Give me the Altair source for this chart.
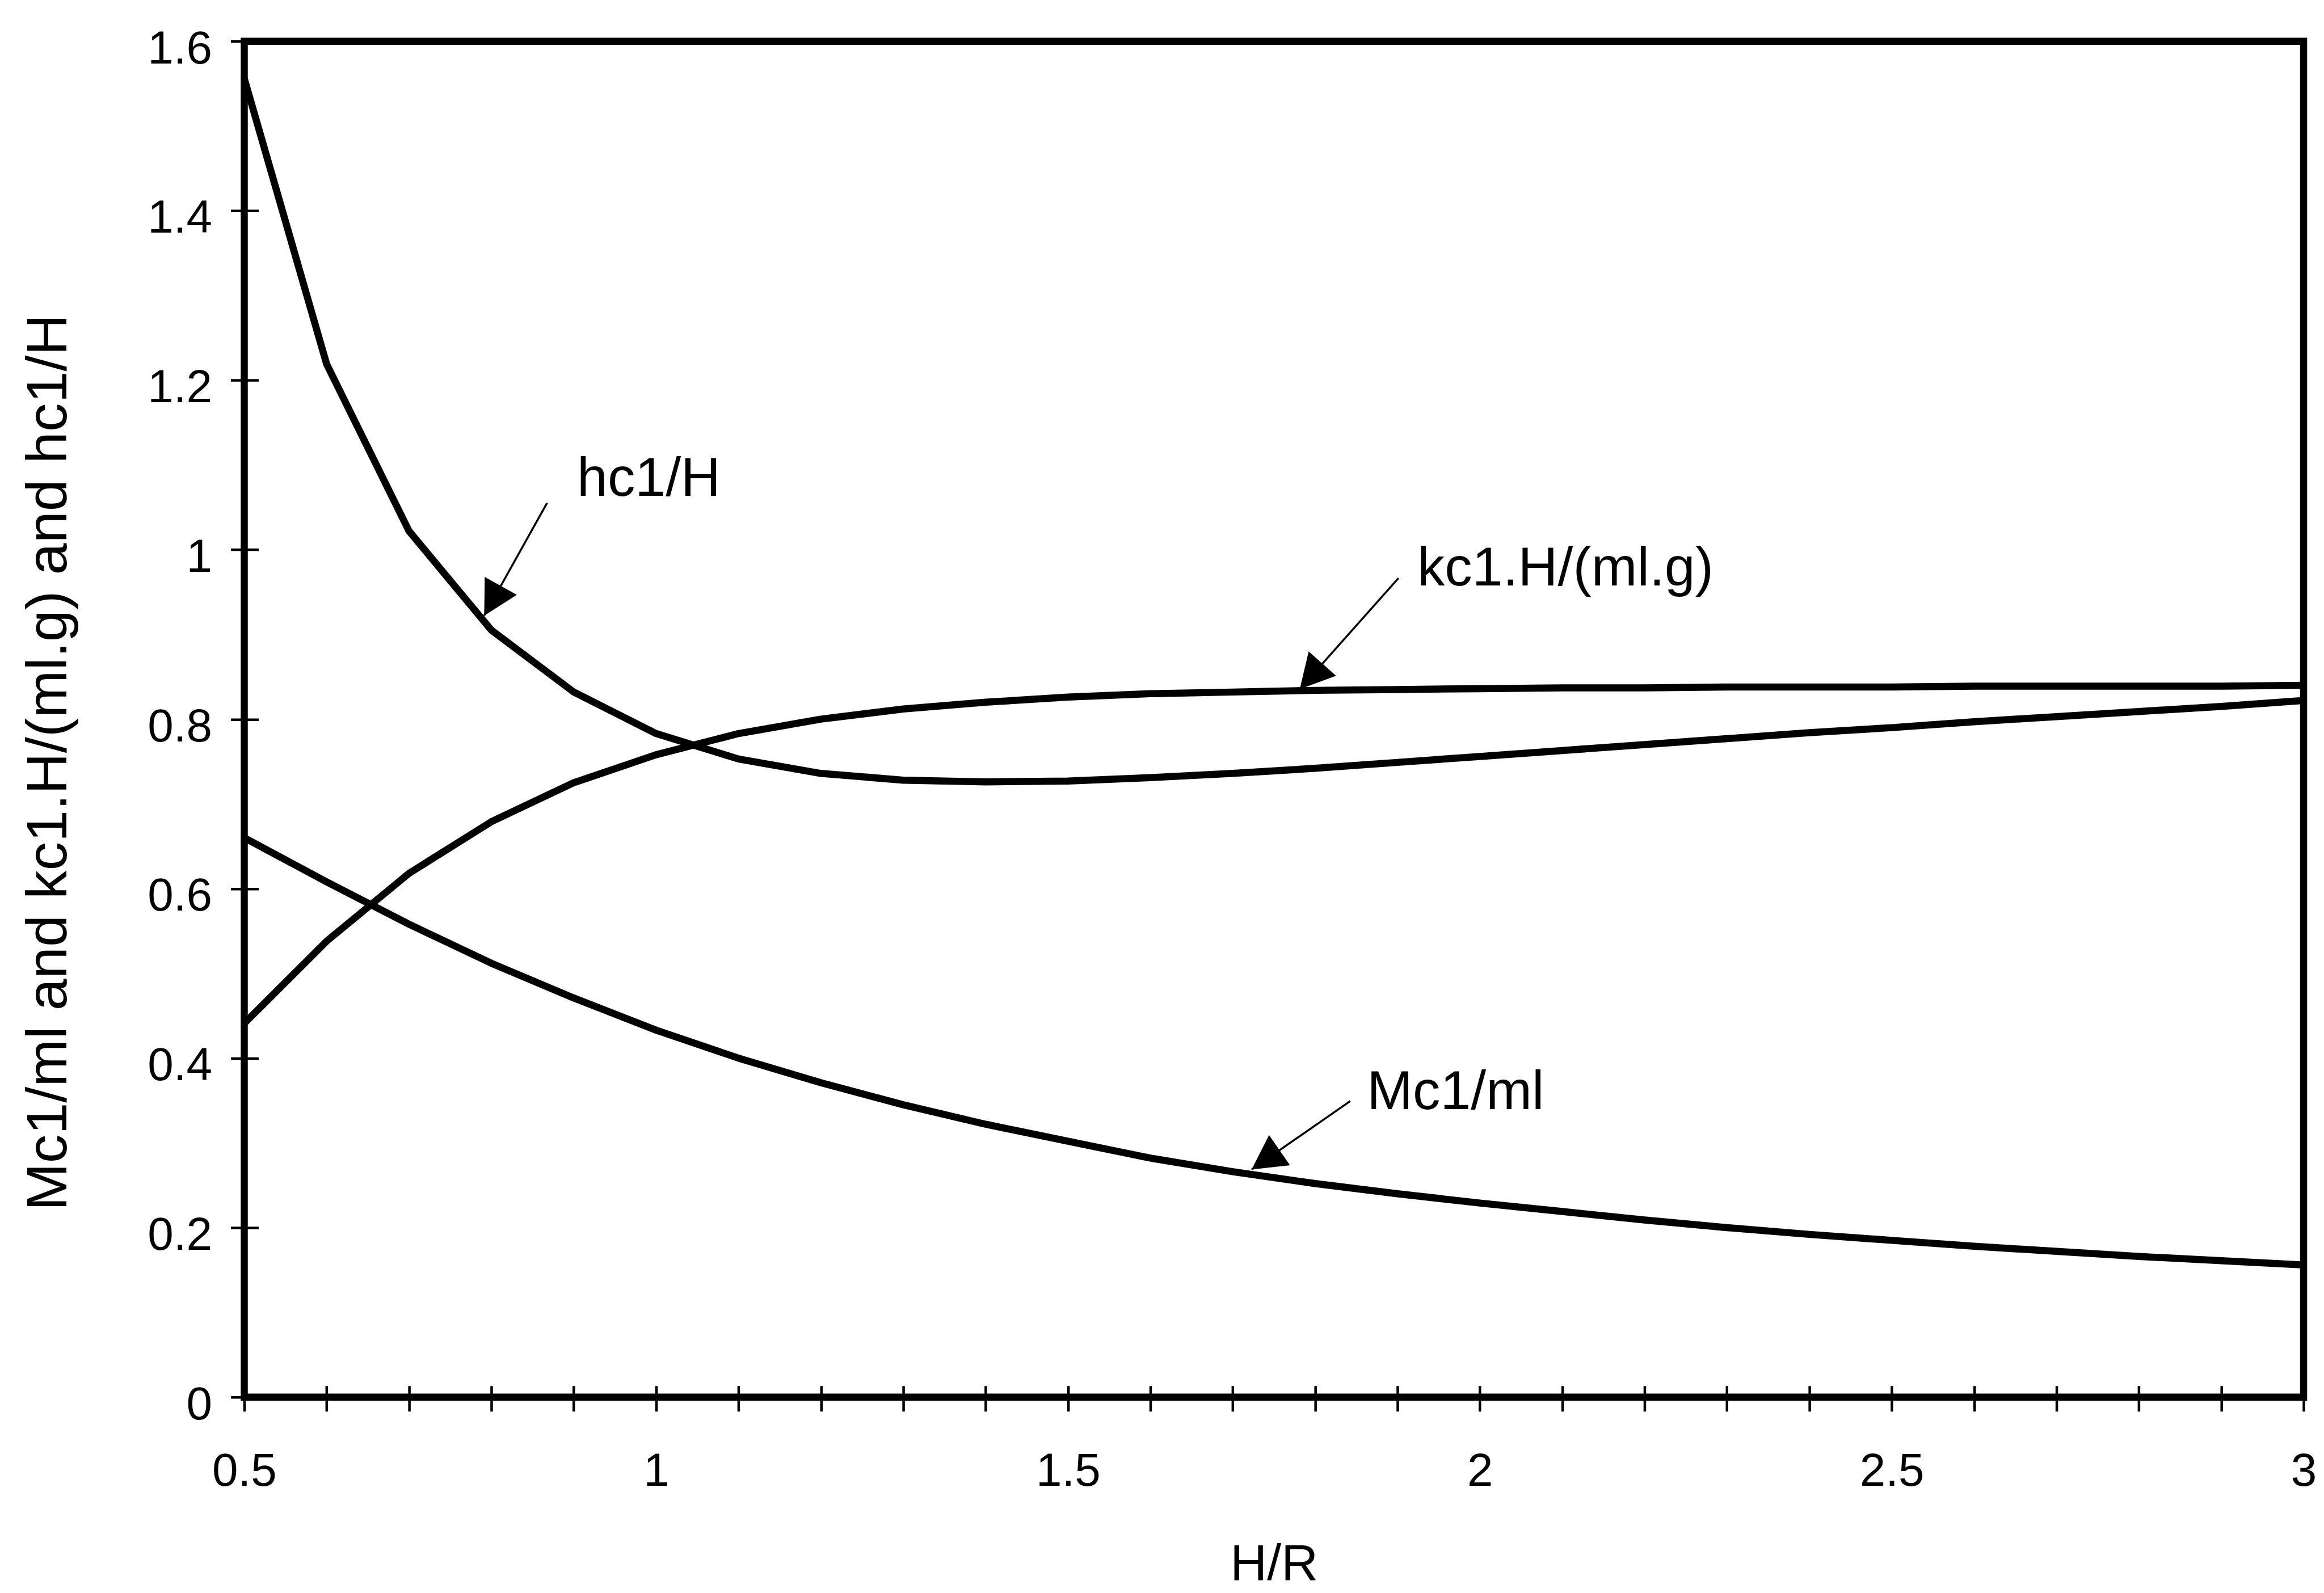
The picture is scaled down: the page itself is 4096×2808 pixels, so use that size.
import math
import altair as alt
import pandas as pd

# ---------------- data ----------------
H_R = [0.5, 0.6, 0.7, 0.8, 0.9, 1.0, 1.1, 1.2, 1.3, 1.4, 1.5, 1.6, 1.7,
       1.8, 1.9, 2.0, 2.1, 2.2, 2.3, 2.4, 2.5, 2.6, 2.7, 2.8, 2.9, 3.0]

HC1_H = [1.556, 1.219, 1.022, 0.905, 0.832, 0.783, 0.753, 0.736, 0.728,
         0.726, 0.727, 0.731, 0.736, 0.742, 0.749, 0.756, 0.763, 0.770,
         0.777, 0.784, 0.790, 0.797, 0.803, 0.809, 0.815, 0.822]

KC1_H_MLG = [0.441, 0.538, 0.618, 0.679, 0.725, 0.758, 0.783, 0.800, 0.812,
             0.820, 0.826, 0.830, 0.832, 0.834, 0.835, 0.836, 0.837, 0.837,
             0.838, 0.838, 0.838, 0.839, 0.839, 0.839, 0.839, 0.840]

MC1_ML = [0.660, 0.608, 0.558, 0.512, 0.471, 0.433, 0.400, 0.371, 0.345,
          0.322, 0.302, 0.282, 0.266, 0.252, 0.240, 0.229, 0.219, 0.209,
          0.200, 0.192, 0.185, 0.178, 0.172, 0.166, 0.161, 0.156]

SERIES = ["hc1/H", "kc1.H/(ml.g)", "Mc1/ml"]

# axis ticks / labels
X_TICKS = [0.5, 0.6, 0.7, 0.8, 0.9, 1.0, 1.1, 1.2, 1.3, 1.4, 1.5, 1.6, 1.7,
           1.8, 1.9, 2.0, 2.1, 2.2, 2.3, 2.4, 2.5, 2.6, 2.7, 2.8, 2.9, 3.0]
X_LABEL_VALUES = [0.5, 1.0, 1.5, 2.0, 2.5, 3.0]
X_LABEL_TEXT = ["0.5", "1", "1.5", "2", "2.5", "3"]
Y_TICKS = [0.0, 0.2, 0.4, 0.6, 0.8, 1.0, 1.2, 1.4, 1.6]
Y_LABEL_TEXT = ["0", "0.2", "0.4", "0.6", "0.8", "1", "1.2", "1.4", "1.6"]

X_TITLE = "H/R"
Y_TITLE = "Mc1/ml  and  kc1.H/(ml.g)  and  hc1/H"

# annotations (data units)
ANN_TEXT = ["hc1/H", "kc1.H/(ml.g)", "Mc1/ml"]
ANN_TEXT_X = [0.904, 1.924, 1.863]
ANN_TEXT_Y = [1.0638, 0.9575, 0.3401]
ARROW_TAIL_X = [0.8676, 1.9012, 1.8427]
ARROW_TAIL_Y = [1.0551, 0.9664, 0.3493]
ARROW_TIP_X = [0.7913, 1.7814, 1.7229]
ARROW_TIP_Y = [0.9222, 0.8355, 0.2685]

# ---------------- layout ----------------
W = 3634
H = 2393
X_DOM = [0.5, 3.0]
Y_DOM = [0.0, 1.6]
FONT = "Liberation Sans"

rows = []
for name, vals in zip(SERIES, [HC1_H, KC1_H_MLG, MC1_ML]):
    for x, v in zip(H_R, vals):
        rows.append({"x": x, "y": v, "series": name})
lines_df = pd.DataFrame(rows)

px_per_x = W / (X_DOM[1] - X_DOM[0])
px_per_y = H / (Y_DOM[1] - Y_DOM[0])
angles = []
for tx, ty, hx, hy in zip(ARROW_TAIL_X, ARROW_TAIL_Y, ARROW_TIP_X, ARROW_TIP_Y):
    dx = (hx - tx) * px_per_x
    dy = -(hy - ty) * px_per_y
    angles.append(math.degrees(math.atan2(dx, -dy)) % 360)

ann_df = pd.DataFrame({
    "label": ANN_TEXT,
    "text_x": ANN_TEXT_X, "text_y": ANN_TEXT_Y,
    "tail_x": ARROW_TAIL_X, "tail_y": ARROW_TAIL_Y,
    "tip_x": ARROW_TIP_X, "tip_y": ARROW_TIP_Y,
    "angle": angles,
})


def label_expr(values, texts):
    expr = "''"
    for v, t in reversed(list(zip(values, texts))):
        expr = f"abs(datum.value - {v}) < 0.000001 ? '{t}' : ({expr})"
    return expr


xscale = alt.Scale(domain=X_DOM, nice=False, zero=False)
yscale = alt.Scale(domain=Y_DOM, nice=False, zero=False)

x_axis = alt.Axis(
    values=X_TICKS, labelExpr=label_expr(X_LABEL_VALUES, X_LABEL_TEXT),
    title=X_TITLE, domain=False, grid=False, ticks=True, zindex=2,
    tickSize=45, tickWidth=4.5, tickColor="black", offset=-20,
    labelFont=FONT, labelFontSize=82, labelColor="black",
    labelBaseline="alphabetic", labelPadding=130.8, labelFlush=False,
    labelOverlap=False, labelAlign="center",
    titleFont=FONT, titleFontSize=90, titleFontWeight="normal",
    titleColor="black", titleBaseline="alphabetic", titleAlign="center",
    titleX=W / 2, titleY=342.5,
)

y_axis = alt.Axis(
    values=Y_TICKS, labelExpr=label_expr(Y_TICKS, Y_LABEL_TEXT),
    title=Y_TITLE, domain=False, grid=False, ticks=True, zindex=2,
    tickSize=49, tickWidth=4.5, tickColor="black", offset=-25,
    labelFont=FONT, labelFontSize=82, labelColor="black",
    labelBaseline="alphabetic", labelOffset=38.5, labelPadding=33,
    labelAlign="right", labelFlush=False, labelOverlap=False,
    titleFont=FONT, titleFontSize=101, titleFontWeight="normal",
    titleColor="black", titleBaseline="alphabetic", titleAlign="center",
    titleAngle=270, titleX=-338.9, titleY=1272.4,
)

X_ENC = alt.X("x:Q", scale=xscale, axis=x_axis)
Y_ENC = alt.Y("y:Q", scale=yscale, axis=y_axis)

lines = alt.Chart(lines_df).mark_line(
    color="black", strokeWidth=12.5, strokeJoin="round"
).encode(
    x=X_ENC,
    y=Y_ENC,
    detail="series:N",
)

arrow_df = ann_df.rename(columns={"tail_x": "x", "tail_y": "y"})
arrows = alt.Chart(arrow_df).mark_rule(color="black", strokeWidth=3.5).encode(
    x=X_ENC,
    y=Y_ENC,
    x2="tip_x:Q",
    y2="tip_y:Q",
)

head_df = ann_df.rename(columns={"tip_x": "x", "tip_y": "y"})
heads = alt.Chart(head_df).mark_point(
    shape="M0,0L-0.54,1L0.54,1Z", filled=True, color="black",
    opacity=1, size=14400, strokeWidth=0,
).encode(
    x=X_ENC,
    y=Y_ENC,
    angle=alt.Angle("angle:Q", scale=None),
)

text_df = ann_df.rename(columns={"text_x": "x", "text_y": "y"})
texts = alt.Chart(text_df).mark_text(
    align="left", baseline="alphabetic", font=FONT, fontSize=97,
    color="black",
).encode(
    x=X_ENC,
    y=Y_ENC,
    text="label:N",
)

chart = alt.layer(lines, arrows, heads, texts).properties(
    width=W, height=H,
    autosize=alt.AutoSizeParams(type="none"),
    padding={"left": 423, "top": 63, "right": 28, "bottom": 344},
    background="white",
).configure_view(
    stroke="black", strokeWidth=12.5
)

chart.save("out.html", embed_options={"renderer": "svg", "actions": False})
